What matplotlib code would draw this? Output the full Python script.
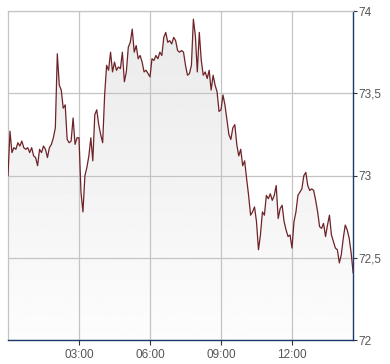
import numpy as np
import matplotlib
matplotlib.use("Agg")
import matplotlib.pyplot as plt
from matplotlib.patches import Polygon

# price values, one every 5 minutes starting 00:00
prices = [
    73.00, 73.27, 73.14, 73.17, 73.16, 73.20, 73.18, 73.21, 73.17, 73.16,
    73.17, 73.14, 73.17, 73.12, 73.11, 73.06, 73.16, 73.14, 73.18, 73.16,
    73.11, 73.17, 73.19, 73.23, 73.29, 73.74, 73.55, 73.52, 73.41, 73.43,
    73.22, 73.20, 73.21, 73.35, 73.19, 73.23, 73.23, 72.90, 72.78, 73.00,
    73.05, 73.12, 73.23, 73.09, 73.37, 73.40, 73.31, 73.25, 73.20, 73.49,
    73.67, 73.64, 73.75, 73.63, 73.69, 73.64, 73.66, 73.65, 73.75, 73.57,
    73.63, 73.78, 73.81, 73.89, 73.75, 73.79, 73.71, 73.73, 73.69, 73.63,
    73.64, 73.62, 73.60, 73.71, 73.70, 73.73, 73.71, 73.75, 73.73, 73.84,
    73.87, 73.81, 73.82, 73.80, 73.84, 73.82, 73.76, 73.75, 73.76, 73.75,
    73.67, 73.61, 73.62, 73.67, 73.95, 73.85, 73.63, 73.87, 73.70, 73.61,
    73.63, 73.59, 73.64, 73.52, 73.61, 73.55, 73.51, 73.39, 73.40, 73.49,
    73.43, 73.34, 73.25, 73.22, 73.29, 73.31, 73.19, 73.12, 73.16, 73.06,
    73.09, 72.98, 72.88, 72.76, 72.78, 72.81, 72.72, 72.55, 72.64, 72.78,
    72.76, 72.88, 72.86, 72.89, 72.85, 72.88, 72.94, 72.74, 72.80, 72.82,
    72.72, 72.67, 72.63, 72.64, 72.56, 72.72, 72.78, 72.88, 72.90, 72.92,
    73.00, 73.02, 72.94, 72.91, 72.92, 72.91, 72.85, 72.78, 72.69, 72.68,
    72.71, 72.63, 72.70, 72.76, 72.64, 72.60, 72.56, 72.55, 72.47, 72.52,
    72.62, 72.70, 72.67, 72.62, 72.53, 72.41,
]
step_minutes = 5
x_ticks_hours = [3, 6, 9, 12]
x_tick_labels = ["03:00", "06:00", "09:00", "12:00"]
y_ticks = [72, 72.5, 73, 73.5, 74]
y_tick_labels = ["72", "72,5", "73", "73,5", "74"]

hours = np.arange(len(prices)) * step_minutes / 60.0
vals = np.array(prices)

W, H = 390, 364
fig = plt.figure(figsize=(W / 100, H / 100), dpi=100)
left, right, top, bottom = 8, 352.7, 11, 340.3
ax = fig.add_axes([left / W, 1 - bottom / H, (right - left) / W, (bottom - top) / H])

ymin, ymax = 72, 74
xmax = 14.565
ax.set_xlim(0, xmax)
ax.set_ylim(ymin, ymax)

# gradient fill under the line
grad = np.linspace(0.915, 0.99, 256).reshape(-1, 1)
img = ax.imshow(grad, cmap="gray", vmin=0, vmax=1, aspect="auto",
                extent=[0, xmax, ymin, ymax], origin="upper", zorder=0.5,
                interpolation="bilinear")
poly_pts = np.vstack([[hours[0], ymin], np.column_stack([hours, vals]), [hours[-1], ymin]])
clip = Polygon(poly_pts, closed=True, transform=ax.transData, facecolor="none", edgecolor="none")
ax.add_patch(clip)
img.set_clip_path(clip)

ax.plot(hours, vals, color="#6e2328", lw=0.9, zorder=3)

# grid
ax.set_xticks(x_ticks_hours)
ax.set_xticklabels(x_tick_labels)
ax.set_yticks(y_ticks)
ax.set_yticklabels(y_tick_labels)
ax.grid(True, color="#c4c4c4", lw=0.9, zorder=1.5)
ax.set_axisbelow("line")

ax.yaxis.tick_right()
ax.tick_params(axis="y", direction="out", length=3, width=0.8, color="#333333",
               pad=1, labelsize=8.5, labelcolor="#555555")
ax.tick_params(axis="x", direction="out", length=3.5, width=0.8, color="#333333",
               pad=3, labelsize=8.5, labelcolor="#555555")
for lab in ax.get_xticklabels() + ax.get_yticklabels():
    lab.set_fontfamily("Liberation Sans")

for s in ["left", "top"]:
    ax.spines[s].set_color("#c4c4c4")
    ax.spines[s].set_linewidth(0.9)
for s in ["bottom", "right"]:
    ax.spines[s].set_color("#1c3a6e")
    ax.spines[s].set_linewidth(1.0)

fig.savefig("out.png", dpi=100, facecolor="white")
